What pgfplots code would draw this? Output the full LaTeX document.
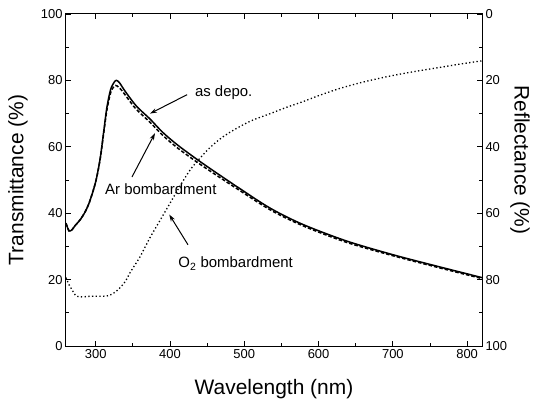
\documentclass[border=0pt]{standalone}
\usepackage{fontspec}
\setmainfont{Liberation Sans}
\usepackage{pgfplots}
\pgfplotsset{compat=1.18}
\usetikzlibrary{arrows.meta}
\begin{document}
\begin{tikzpicture}
\pgfplotsset{
  every axis/.append style={
    width=416bp, height=332bp, scale only axis,
    xmin=260, xmax=820,
    tick label style={font=\fontsize{13}{15}\selectfont},
    label style={font=\fontsize{21}{24}\selectfont},
    /pgf/number format/assume math mode=true,
    major tick length=5bp, minor tick length=3bp,
    tick style={black, line width=0.8bp},
    axis line style={line width=1bp},
    tick align=inside,
  }
}
\begin{axis}[
  ymin=0, ymax=100,
  xtick={300,400,...,800}, minor x tick num=1,
  ytick={0,20,...,100}, minor y tick num=1,
  xtick pos=both, ytick pos=left,
  xlabel={Wavelength (nm)}, ylabel={Transmittance (\%)},
  xlabel style={at={(rel axis cs:0.5,-0.1295)}, anchor=center},
  ylabel style={at={(rel axis cs:-0.1154,0.5)}, anchor=center},
  clip=false,
]
% as deposited (solid)
\addplot[black, line width=1.5bp, smooth] coordinates {
(260,37.0) (264,34.7) (268,35.0) (272,36.2) (279,38.0) (286,40.5) (292,43.6)
(300,49.5) (306,56.5) (311,65) (315,71.8) (320,77.2) (325,79.5) (328,80)
(332,79.3) (340,76.6) (355,72.2) (373,68.4) (390,64.4) (411,60.4) (444,55)
(490,48) (535,41.5) (579,36.6) (638,31.6) (700,27.5) (760,24) (820,20.6)
};
% Ar bombardment (dashed)
\addplot[black, line width=1.5bp, dash pattern=on 3.5bp off 2bp, smooth] coordinates {
(260,37.0) (264,34.7) (268,35.0) (272,36.2) (279,38.0) (286,40.5) (292,43.6)
(300,49.5) (306,56.3) (311,64.5) (315,71) (320,76.2) (325,78.3) (329,78.3)
(335,77) (345,74) (355,71.2) (373,67.4) (390,63.5) (411,59.5) (444,54.2)
(490,47.4) (535,41) (579,36.2) (638,31.2) (700,27.2) (760,23.7) (820,20.3)
};
\node[anchor=base west, font=\fontsize{15}{17}\selectfont] at (axis cs:429,75) {as depo.};
\draw[-{Stealth[length=7bp,width=4.5bp]}, line width=1bp] (axis cs:423,75.7) -- (axis cs:373,70);
\node[anchor=base west, font=\fontsize{15}{17}\selectfont] at (axis cs:308,45.5) {Ar bombardment};
\draw[-{Stealth[length=7bp,width=4.5bp]}, line width=1bp] (axis cs:348.8,50.9) -- (axis cs:379.8,64.1);
\node[anchor=base west, font=\fontsize{15}{17}\selectfont] at (axis cs:406.7,23.6) {O\textsubscript{2} bombardment};
\draw[-{Stealth[length=7bp,width=4.5bp]}, line width=1bp] (axis cs:424.2,30.5) -- (axis cs:399,39.6);
\node[rotate=-90, anchor=center, font=\fontsize{21}{24}\selectfont] at (rel axis cs:1.0913,0.56) {Reflectance (\%)};
\coordinate (SW) at (rel axis cs:0,0);
\coordinate (NE) at (rel axis cs:1,1);
\end{axis}
\begin{axis}[
  ymin=0, ymax=100, y dir=reverse,
  axis x line=none, axis y line*=right,
  ytick={0,20,...,100}, minor y tick num=1,
]
% O2 bombardment reflectance (dotted)
\addplot[black, line width=1.3bp, dash pattern=on 1.3bp off 2.4bp, smooth] coordinates {
(260,79.4) (264,81.5) (268,83) (273,84.8) (280,85.2) (295,85) (310,85)
(318,84.8) (326,83.8) (333,82.4) (340,80.5) (346,78) (353,75.5) (360,73)
(373,67.4) (387,62) (400,57) (413,52) (427,47) (440,43.5) (454,40.2)
(470,37.2) (490,34.4) (510,32.1) (535,30) (557,28.1) (579,26.4) (600,24.6)
(629,22.4) (660,20.5) (696,18.7) (730,17.3) (763,16.1) (790,15.1) (820,14.1)
};
\end{axis}
\path (SW) ++(-66bp,-61bp);
\path (NE) ++(58bp,14bp);
\end{tikzpicture}
\end{document}
